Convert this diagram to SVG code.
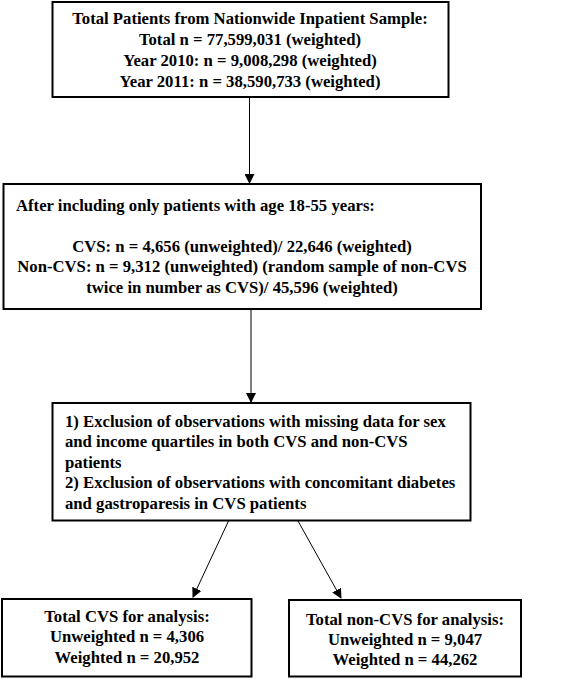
<svg xmlns="http://www.w3.org/2000/svg" width="567" height="679" viewBox="0 0 567 679">
<style>
.box{fill:#fff;stroke:#000;stroke-width:2}
text{font-family:"Liberation Serif","Times New Roman",serif;font-weight:bold;font-size:16.7px;fill:#000}
.c{text-anchor:middle}
.ln{stroke:#000;stroke-width:1;fill:none}
</style>
<defs>
<marker id="ah" markerWidth="10" markerHeight="10" refX="9" refY="5" orient="auto" markerUnits="userSpaceOnUse">
<path d="M0,0 L10,5 L0,10 z" fill="#000"/>
</marker>
</defs>
<rect width="567" height="679" fill="#fff"/>
<g id="connectors">
<line class="ln" x1="249.5" y1="97" x2="249.5" y2="183" marker-end="url(#ah)"/>
<line class="ln" x1="251" y1="309" x2="251" y2="402" marker-end="url(#ah)"/>
<line class="ln" x1="228.5" y1="521" x2="193" y2="597" marker-end="url(#ah)"/>
<line class="ln" x1="298" y1="521" x2="341" y2="598" marker-end="url(#ah)"/>
</g>
<g id="n1">
<rect class="box" x="52.5" y="2" width="396" height="95"/>
<text class="c" x="250" y="24">Total Patients from Nationwide Inpatient Sample:</text>
<text class="c" x="250" y="45">Total n = 77,599,031 (weighted)</text>
<text class="c" x="250" y="66">Year 2010: n = 9,008,298 (weighted)</text>
<text class="c" x="250" y="87">Year 2011: n = 38,590,733 (weighted)</text>
</g>
<g id="n2">
<rect class="box" x="3.5" y="184" width="477.5" height="125"/>
<text x="16" y="210.5">After including only patients with age 18-55 years:</text>
<text class="c" x="242" y="252">CVS: n = 4,656 (unweighted)/ 22,646 (weighted)</text>
<text class="c" x="242" y="272">Non-CVS: n = 9,312 (unweighted) (random sample of non-CVS</text>
<text class="c" x="242" y="293">twice in number as CVS)/ 45,596 (weighted)</text>
</g>
<g id="n3">
<rect class="box" x="52.5" y="403" width="418" height="117.5"/>
<text x="65" y="426.5">1) Exclusion of observations with missing data for sex</text>
<text x="65" y="447">and income quartiles in both CVS and non-CVS</text>
<text x="65" y="467.5">patients</text>
<text x="65" y="488">2) Exclusion of observations with concomitant diabetes</text>
<text x="65" y="509">and gastroparesis in CVS patients</text>
</g>
<g id="n4">
<rect class="box" x="2" y="599" width="249.5" height="77.5"/>
<text class="c" x="127" y="622">Total CVS for analysis:</text>
<text class="c" x="127" y="642">Unweighted n = 4,306</text>
<text class="c" x="127" y="663">Weighted n = 20,952</text>
</g>
<g id="n5">
<rect class="box" x="289" y="600" width="232" height="76.5"/>
<text class="c" x="405" y="625">Total non-CVS for analysis:</text>
<text class="c" x="405" y="645">Unweighted n = 9,047</text>
<text class="c" x="405" y="665">Weighted n = 44,262</text>
</g>
</svg>
